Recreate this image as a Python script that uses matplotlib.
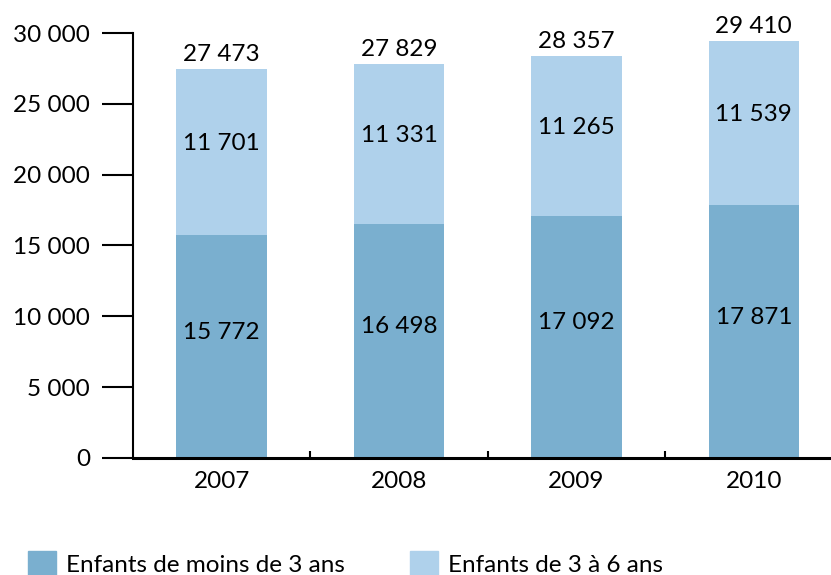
import numpy as np
import matplotlib.pyplot as plt
from matplotlib.patches import Patch

plt.rcParams['font.family'] = ['Lato', 'DejaVu Sans']

years = ['2007', '2008', '2009', '2010']
moins_3 = [15772, 16498, 17092, 17871]
de_3_a_6 = [11701, 11331, 11265, 11539]
totals = [27473, 27829, 28357, 29410]

c_dark = '#7aafcf'
c_light = '#afd1eb'


def fmt(v):
    return f"{v:,}".replace(",", " ")


fig = plt.figure(figsize=(8.31, 5.75), dpi=100)
ax = fig.add_axes([133/831, 117/575, 709.5/831, 425/575])

x = np.arange(len(years))
ax.bar(x, moins_3, width=0.51, color=c_dark)
ax.bar(x, de_3_a_6, width=0.51, bottom=moins_3, color=c_light)

fs = 17.5
for i in range(len(years)):
    ax.text(x[i], moins_3[i]/2 + 1000, fmt(moins_3[i]), ha='center', va='center', fontsize=fs)
    ax.text(x[i], moins_3[i] + de_3_a_6[i]/2 + 600, fmt(de_3_a_6[i]), ha='center', va='center', fontsize=fs)
    ax.annotate(fmt(totals[i]), (x[i], totals[i]), xytext=(0, 3), textcoords='offset points',
                ha='center', va='bottom', fontsize=fs)

ax.set_xlim(-0.5, 3.5)
ax.set_ylim(0, 30000)
ax.set_yticks(np.arange(0, 30001, 5000))
ax.set_yticklabels([fmt(v) for v in range(0, 30001, 5000)], fontsize=fs)
ax.tick_params(axis='y', length=22, width=1.5, pad=9)

ax.set_xticks(x)
ax.set_xticklabels(years, fontsize=fs)
ax.tick_params(axis='x', which='major', length=0, pad=9)
ax.set_xticks([0.5, 1.5, 2.5], minor=True)
ax.tick_params(axis='x', which='minor', direction='in', length=5, width=1.5)

for s in ['top', 'right']:
    ax.spines[s].set_visible(False)
ax.spines['left'].set_linewidth(1.5)
ax.spines['bottom'].set_linewidth(2.2)

handles = [Patch(color=c_dark, label='Enfants de moins de 3 ans'),
           Patch(color=c_light, label='Enfants de 3 à 6 ans')]
fig.legend(handles=handles, loc='lower left', bbox_to_anchor=(28/831, -2/575), ncol=2,
           frameon=False, fontsize=fs, handlelength=1.15, handleheight=1.25,
           handletextpad=0.4, columnspacing=2.7, borderpad=0, borderaxespad=0)

plt.savefig('out.png', dpi=100)
